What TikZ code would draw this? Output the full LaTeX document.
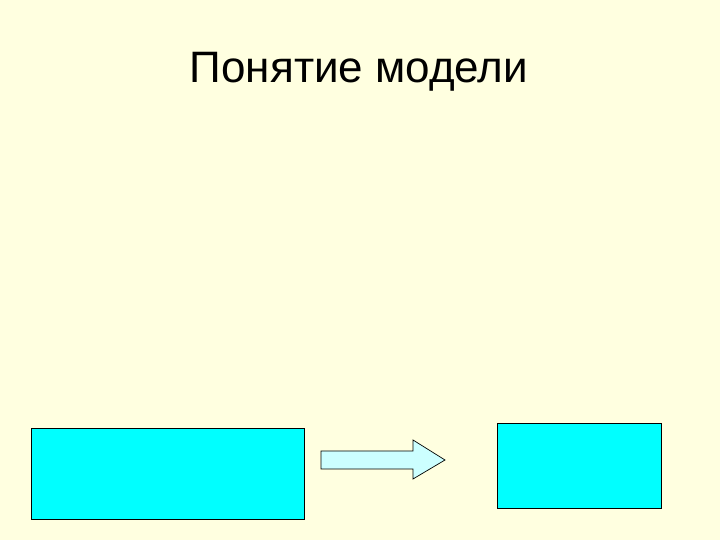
\documentclass[tikz,border=0pt]{standalone}
\usepackage{fontspec}
\setmainfont{Liberation Sans}
\definecolor{slidebg}{RGB}{255,255,224}
\definecolor{boxcyan}{RGB}{0,255,255}
\definecolor{arrowcyan}{RGB}{204,255,255}
\begin{document}
\begin{tikzpicture}[x=1pt, y=1pt]
    \fill[slidebg] (0,0) rectangle (720,540);
    \node[anchor=base, inner sep=0pt, font=\fontsize{44}{52}\selectfont] (title) at (359,457) {Понятие модели};
    \draw[fill=boxcyan, line width=0.9pt] (31,21) rectangle (304,112);
    \draw[fill=boxcyan, line width=0.9pt] (497,32) rectangle (661,117);
    \draw[fill=arrowcyan, line width=0.7pt] (321,71) -- (413,71) -- (413,61) -- (445,80) -- (413,100) -- (413,89) -- (321,89) -- cycle;
\end{tikzpicture}
\end{document}
